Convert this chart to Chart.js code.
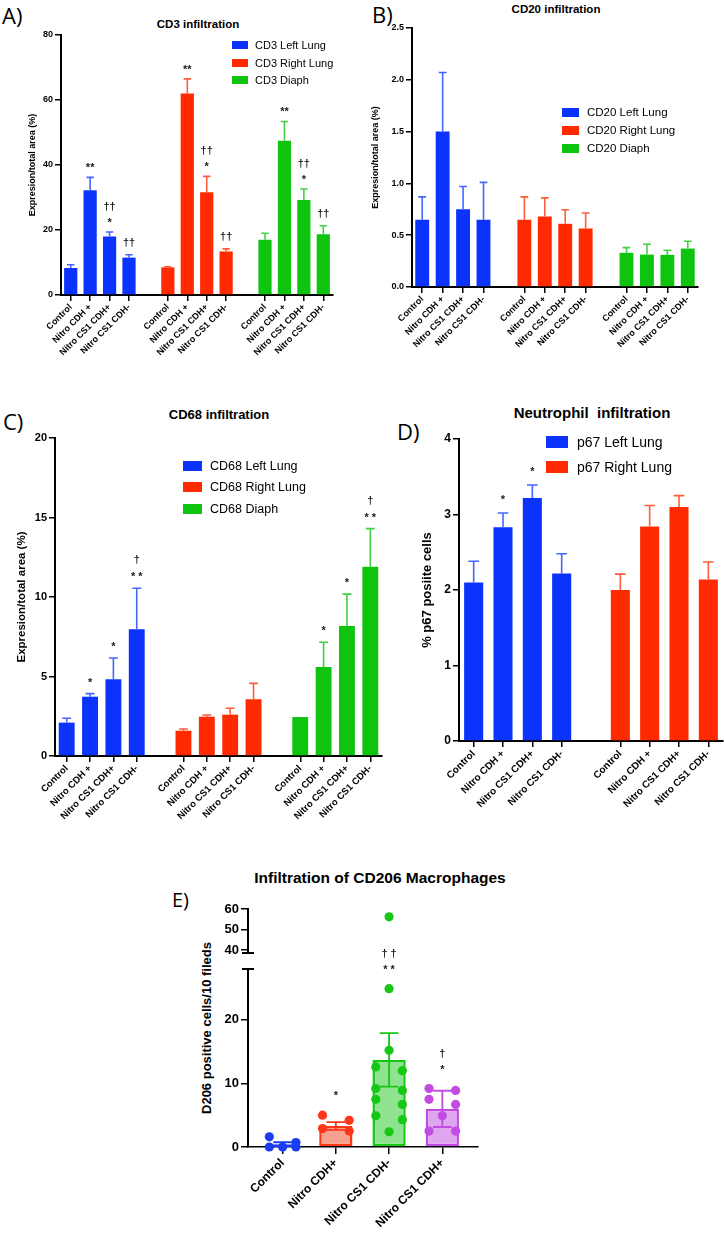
<!DOCTYPE html>
<html>
<head>
<meta charset="utf-8">
<title>Immune cell infiltration</title>
<script src="https://cdn.jsdelivr.net/npm/chart.js@4.4.3/dist/chart.umd.min.js"></script>
<style>
    body { margin: 0; background: #fff; }
    #page { position: relative; width: 724px; height: 1238px; overflow: hidden; font-family: Arial, "Liberation Sans", sans-serif; color: #000; }
    canvas { position: absolute; }
    .txt { position: absolute; white-space: nowrap; line-height: 1; }
    .title { font-weight: bold; transform: translate(-50%, -50%); }
    .letter { font-family: "Open Sans", "Liberation Sans", sans-serif; font-size: 22px; }
    .ytitle { font-weight: bold; transform: translate(-50%, -50%) rotate(-90deg); }
    .legend { position: absolute; }
    .legend .row { position: absolute; display: flex; align-items: center; white-space: nowrap; }
    .legend .sw { display: inline-block; }
</style>
</head>
<body>
<div id="page">
    <div class="txt letter" style="left:2px; top:4px;">A)</div>
    <div class="txt letter" style="left:372px; top:3px;">B)</div>
    <div class="txt letter" style="left:3px; top:410px;">C)</div>
    <div class="txt letter" style="left:397px; top:420px;">D)</div>
    <div class="txt letter" style="left:172px; top:890px; font-size:20px;">E)</div>

    <div class="txt title" style="left:198px; top:25px; font-size:11.5px;">CD3 infiltration</div>
    <div class="txt title" style="left:556px; top:10px; font-size:11.5px;">CD20 infiltration</div>
    <div class="txt title" style="left:219px; top:414px; font-size:13px;">CD68 infiltration</div>
    <div class="txt title" style="left:592px; top:412px; font-size:15px;">Neutrophil&nbsp; infiltration</div>
    <div class="txt title" style="left:380px; top:878px; font-size:15.5px;">Infiltration of CD206 Macrophages</div>
    <div class="txt ytitle" style="left:206px; top:1028px; font-size:13px;">D206 positive cells/10 fileds</div>

    <canvas id="cd3Chart" width="360" height="372" style="left:0px; top:0px;"></canvas>
    <canvas id="cd20Chart" width="364" height="350" style="left:360px; top:0px;"></canvas>
    <canvas id="cd68Chart" width="392" height="440" style="left:0px; top:400px;"></canvas>
    <canvas id="p67Chart" width="344" height="470" style="left:380px; top:370px;"></canvas>
    <canvas id="cd206Upper" width="340" height="70" style="left:150px; top:895px;"></canvas>
    <canvas id="cd206Lower" width="340" height="298" style="left:150px; top:940px;"></canvas>
</div>

<script>
// -----------------------------
// Data
// -----------------------------

const groups = ["Control", "Nitro CDH +", "Nitro CS1 CDH+", "Nitro CS1 CDH-"];

// A) CD3 infiltration
const cd3Left = [8.3, 32.2, 18.0, 11.5];
const cd3LeftErr = [1.0, 4.0, 1.4, 0.9];
const cd3Right = [8.5, 62.0, 31.6, 13.4];
const cd3RightErr = [0.2, 4.5, 4.9, 0.8];
const cd3Diaph = [17.0, 47.5, 29.2, 18.7];
const cd3DiaphErr = [2.0, 5.9, 3.4, 2.6];
const cd3Marks = ["", "**", "††\n*", "††"];

// B) CD20 infiltration
const cd20Left = [0.65, 1.50, 0.75, 0.65];
const cd20LeftErr = [0.22, 0.57, 0.22, 0.36];
const cd20Right = [0.65, 0.68, 0.61, 0.565];
const cd20RightErr = [0.22, 0.18, 0.135, 0.15];
const cd20Diaph = [0.33, 0.313, 0.31, 0.371];
const cd20DiaphErr = [0.05, 0.10, 0.045, 0.07];

// C) CD68 infiltration
const cd68Left = [2.1, 3.73, 4.82, 7.97];
const cd68LeftErr = [0.27, 0.19, 1.34, 2.58];
const cd68Right = [1.59, 2.47, 2.6, 3.57];
const cd68RightErr = [0.11, 0.11, 0.4, 1.0];
const cd68Diaph = [2.45, 5.6, 8.18, 11.9];
const cd68DiaphErr = [0, 1.55, 2.0, 2.4];
const cd68Marks = ["", "*", "*", "†\n* *"];

// D) Neutrophil infiltration
const p67Left = [2.10, 2.83, 3.22, 2.22];
const p67LeftErr = [0.28, 0.19, 0.17, 0.26];
const p67Right = [2.0, 2.84, 3.10, 2.14];
const p67RightErr = [0.21, 0.28, 0.15, 0.23];
const p67LeftMarks = ["", "*", "*", ""];

// E) CD206 macrophages
const cd206Groups = ["Control", "Nitro CDH+", "Nitro CS1 CDH-", "Nitro CS1 CDH+"];
const cd206Means = [0.45, 3.3, 13.7, 6.0];
const cd206Sem = [0.3, 0.6, 4.2, 2.85];
const cd206Control = [0, 0.7, 0, 1.6, 0];
const cd206NitroCdh = [5.0, 4.2, 2.9, 2.5];
const cd206Cs1Neg = [56.2, 24.9, 15.2, 12.6, 12.0, 9.2, 8.9, 7.5, 6.7, 4.9, 4.3, 2.4];
const cd206Cs1Pos = [9.2, 8.9, 7.5, 6.7, 4.9, 2.5, 2.5];
const cd206Marks = ["", "*", "† †\n* *", "†\n*"];

// -----------------------------
// Colours
// -----------------------------

const BLUE = "#0b33fb";
const RED = "#ff2a00";
const GREEN = "#0fc40f";
const BLUE_ERR = "#4566ff";
const RED_ERR = "#ff5c3c";
const GREEN_ERR = "#44cf44";

Chart.defaults.font.family = 'Arial, "Liberation Sans", sans-serif';
Chart.defaults.color = "#000";

// Error bars drawn right after each bar dataset
const errorBarsPlugin = {
    id: "errorBars",
    afterDatasetDraw(chart, args) {
        const ds = chart.data.datasets[args.index];
        const meta = args.meta;
        if (!ds.errors || meta.type !== "bar") return;
        const ctx = chart.ctx;
        const yScale = chart.scales[meta.yAxisID];

        meta.data.forEach((bar, i) => {
            const raw = ds.data[i];
            const v = raw !== null && typeof raw === "object" ? raw.y : raw;
            const e = ds.errors[i];
            if (v == null || !e) return;

            const cap = bar.width * 0.28;
            const yTop = yScale.getPixelForValue(v + e);
            const yBot = ds.errorBoth ? yScale.getPixelForValue(v - e) : bar.y;

            ctx.save();
            ctx.strokeStyle = Array.isArray(ds.errorColor) ? ds.errorColor[i] : ds.errorColor;
            ctx.lineWidth = ds.errorWidth || 1.6;
            ctx.beginPath();
            ctx.moveTo(bar.x, yBot);
            ctx.lineTo(bar.x, yTop);
            ctx.moveTo(bar.x - cap, yTop);
            ctx.lineTo(bar.x + cap, yTop);
            if (ds.errorBoth) {
                ctx.moveTo(bar.x - cap, yBot);
                ctx.lineTo(bar.x + cap, yBot);
            }
            ctx.stroke();
            ctx.restore();
        });
    }
};

// Significance marks (* and †) above the bars
const marksPlugin = {
    id: "marks",
    afterDatasetsDraw(chart, args, opts) {
        if (!opts || !opts.gap) return;
        const ctx = chart.ctx;

        chart.data.datasets.forEach((ds, di) => {
            if (!ds.marks) return;
            const meta = chart.getDatasetMeta(di);
            const yScale = chart.scales[meta.yAxisID];

            meta.data.forEach((bar, i) => {
                const text = ds.marks[i];
                if (!text) return;
                const y = yScale.getPixelForValue(ds.markBase[i]) - opts.gap;
                const lines = text.split("\n").reverse();

                ctx.save();
                ctx.fillStyle = "#1a1a1a";
                ctx.font = opts.font;
                ctx.textAlign = "center";
                ctx.textBaseline = "middle";
                lines.forEach((line, k) => {
                    // asterisks sit high in the font, push them down a bit
                    const shift = line.includes("*") ? opts.starShift : 0;
                    ctx.fillText(line, bar.x, y - k * opts.step + shift);
                });
                ctx.restore();
            });
        });
    }
};

// Short horizontal caps where the y axis is broken (panel E)
const axisCapPlugin = {
    id: "axisCap",
    afterDraw(chart, args, opts) {
        if (!opts || !opts.edge) return;
        const { ctx, chartArea } = chart;
        const y = opts.edge === "top" ? chartArea.top : chartArea.bottom;
        ctx.save();
        ctx.strokeStyle = "#000";
        ctx.lineWidth = 2;
        ctx.beginPath();
        ctx.moveTo(chartArea.left - 6, y);
        ctx.lineTo(chartArea.left + 6, y);
        ctx.stroke();
        ctx.restore();
    }
};

Chart.register(errorBarsPlugin, marksPlugin, axisCapPlugin);

// -----------------------------
// Grouped bar panels (A-D)
// -----------------------------

// Put one group's 4 values into its slot; blank separator slots between groups
function padGroup(arr, g, nGroups) {
    const out = [];
    for (let k = 0; k < nGroups; k++) {
        if (k > 0) out.push(null);
        groups.forEach((_, i) => out.push(k === g && arr ? arr[i] : null));
    }
    return out;
}

function groupedLabels(nGroups) {
    const out = [];
    for (let k = 0; k < nGroups; k++) {
        if (k > 0) out.push("");
        out.push(...groups);
    }
    return out;
}

function legendHtml({ x, y, step, swW, swH, size, items }) {
    const div = document.createElement("div");
    div.className = "legend";
    items.forEach((it, i) => {
        const row = document.createElement("div");
        row.className = "row";
        row.style.left = x + "px";
        row.style.top = (y + i * step) + "px";
        row.style.transform = "translateY(-50%)";
        row.style.fontSize = size + "px";
        row.innerHTML = `<span class="sw" style="width:${swW}px;height:${swH}px;background:${it.color};margin-right:${it.gap}px"></span>${it.label}`;
        div.appendChild(row);
    });
    document.getElementById("page").appendChild(div);
}

function groupedBarChart(canvasId, cfg) {
    const n = cfg.series.length;
    const labels = groupedLabels(n);

    const datasets = cfg.series.map((s, g) => {
        const vals = s.values;
        const errs = s.errors;
        return {
            label: s.label,
            data: padGroup(vals, g, n),
            errors: padGroup(errs, g, n),
            marks: padGroup(s.marks, g, n),
            markBase: padGroup(vals.map((v, i) => v + errs[i]), g, n),
            backgroundColor: s.color,
            borderWidth: 0,
            errorColor: s.errColor,
            grouped: false,
            barPercentage: cfg.barPct,
            categoryPercentage: 1
        };
    });

    legendHtml({
        ...cfg.legend,
        items: cfg.series.map(s => ({ label: s.label, color: s.color, gap: cfg.legend.gap }))
    });

    return new Chart(document.getElementById(canvasId), {
        type: "bar",
        data: { labels, datasets },
        options: {
            responsive: false,
            animation: false,
            devicePixelRatio: 1,
            layout: { padding: { top: cfg.padTop, right: cfg.padRight, left: 0, bottom: 0 } },
            plugins: {
                legend: { display: false },
                tooltip: { enabled: false },
                marks: cfg.marks || {}
            },
            scales: {
                x: {
                    afterFit(scale) { scale.height = cfg.xHeight; },
                    border: { color: "#000", width: 2 },
                    grid: {
                        offset: false,
                        drawOnChartArea: false,
                        tickLength: 6,
                        lineWidth: 1.5,
                        color: ctx => labels[ctx.index] ? "#000" : "rgba(0,0,0,0)"
                    },
                    ticks: {
                        autoSkip: false,
                        minRotation: 45,
                        maxRotation: 45,
                        padding: 1,
                        font: { size: cfg.xFont, weight: "bold" }
                    }
                },
                y: {
                    min: cfg.yMin,
                    max: cfg.yMax,
                    afterFit(scale) { scale.width = cfg.yWidth; },
                    border: { color: "#000", width: 2 },
                    grid: { drawOnChartArea: false, tickLength: 6, lineWidth: 1.5, color: "#000" },
                    ticks: {
                        stepSize: cfg.yStep,
                        padding: 2,
                        font: { size: cfg.yFont, weight: "bold" },
                        callback: cfg.yFormat || (v => v)
                    },
                    title: {
                        display: true,
                        text: cfg.yTitle,
                        font: { size: cfg.yTitleFont, weight: "bold" },
                        padding: { top: cfg.yTitlePad, bottom: 0 }
                    }
                }
            }
        }
    });
}

// A) CD3
groupedBarChart("cd3Chart", {
    series: [
        { label: "CD3 Left Lung", color: BLUE, errColor: BLUE_ERR, values: cd3Left, errors: cd3LeftErr, marks: cd3Marks },
        { label: "CD3 Right Lung", color: RED, errColor: RED_ERR, values: cd3Right, errors: cd3RightErr, marks: cd3Marks },
        { label: "CD3 Diaph", color: GREEN, errColor: GREEN_ERR, values: cd3Diaph, errors: cd3DiaphErr, marks: cd3Marks }
    ],
    yMin: 0, yMax: 80, yStep: 20,
    yTitle: "Expresion/total area (%)",
    yWidth: 61, xHeight: 77, padTop: 35, padRight: 27,
    barPct: 0.68, xFont: 9, yFont: 9, yTitleFont: 9, yTitlePad: 27,
    marks: { gap: 12, step: 13, starShift: 3, font: "bold 11px Arial, 'Liberation Sans', sans-serif" },
    legend: { x: 232, y: 45, step: 17.5, swW: 16, swH: 8, size: 11, gap: 7 }
});

// B) CD20
groupedBarChart("cd20Chart", {
    series: [
        { label: "CD20 Left Lung", color: BLUE, errColor: BLUE_ERR, values: cd20Left, errors: cd20LeftErr },
        { label: "CD20 Right Lung", color: RED, errColor: RED_ERR, values: cd20Right, errors: cd20RightErr },
        { label: "CD20 Diaph", color: GREEN, errColor: GREEN_ERR, values: cd20Diaph, errors: cd20DiaphErr }
    ],
    yMin: 0, yMax: 2.5, yStep: 0.5,
    yFormat: v => v.toFixed(1),
    yTitle: "Expresion/total area (%)",
    yWidth: 52, xHeight: 63, padTop: 28, padRight: 26,
    barPct: 0.68, xFont: 9, yFont: 9, yTitleFont: 9, yTitlePad: 10,
    legend: { x: 562, y: 112, step: 18, swW: 17, swH: 9, size: 11.5, gap: 8 }
});

// C) CD68
groupedBarChart("cd68Chart", {
    series: [
        { label: "CD68 Left Lung", color: BLUE, errColor: BLUE_ERR, values: cd68Left, errors: cd68LeftErr, marks: cd68Marks },
        { label: "CD68 Right Lung", color: RED, errColor: RED_ERR, values: cd68Right, errors: cd68RightErr, marks: ["", "", "", ""] },
        { label: "CD68 Diaph", color: GREEN, errColor: GREEN_ERR, values: cd68Diaph, errors: cd68DiaphErr, marks: cd68Marks }
    ],
    yMin: 0, yMax: 20, yStep: 5,
    yTitle: "Expresion/total area (%)",
    yWidth: 55, xHeight: 84, padTop: 38, padRight: 10,
    barPct: 0.68, xFont: 9.5, yFont: 11, yTitleFont: 11.5, yTitlePad: 15,
    marks: { gap: 14, step: 14, starShift: 3, font: "bold 11px Arial, 'Liberation Sans', sans-serif" },
    legend: { x: 183, y: 466, step: 21.3, swW: 19, swH: 10, size: 12.5, gap: 8 }
});

// D) Neutrophils
groupedBarChart("p67Chart", {
    series: [
        { label: "p67 Left Lung", color: BLUE, errColor: BLUE_ERR, values: p67Left, errors: p67LeftErr, marks: p67LeftMarks },
        { label: "p67 Right Lung", color: RED, errColor: RED_ERR, values: p67Right, errors: p67RightErr, marks: ["", "", "", ""] }
    ],
    yMin: 0, yMax: 4, yStep: 1,
    yTitle: "% p67 posiite cells",
    yWidth: 79, xHeight: 99, padTop: 69, padRight: 1,
    barPct: 0.65, xFont: 10, yFont: 12, yTitleFont: 13, yTitlePad: 40,
    marks: { gap: 16, step: 13, starShift: 3, font: "bold 11px Arial, 'Liberation Sans', sans-serif" },
    legend: { x: 546, y: 442, step: 25, swW: 22, swH: 12, size: 14, gap: 9 }
});

// -----------------------------
// E) CD206 scatter + bar, broken y axis
// -----------------------------

const cd206Sets = [cd206Control, cd206NitroCdh, cd206Cs1Neg, cd206Cs1Pos];
const cd206Colors = ["#1a3df2", "#ff3518", "#16c716", "#c24ce2"];
const cd206Fills = ["#8fa0ff", "#f7a190", "#8fe38f", "#dfa6f0"];
const lowerMax = 28;
const upperMin = 38.5;
const xMin = -0.65;
const xMax = 3.67;

// Nearby values share a row and are spread sideways, like GraphPad scatter
function spreadPoints(values, center) {
    const sorted = [...values].sort((a, b) => b - a);
    const rows = [];
    sorted.forEach(v => {
        const row = rows[rows.length - 1];
        if (row && row.length < 3 && row[0] - v < 1.5) row.push(v);
        else rows.push([v]);
    });
    const pts = [];
    rows.forEach(row => {
        const n = row.length;
        const step = n === 2 ? 0.5 : 0.25;
        row.forEach((v, k) => pts.push({ x: center + (k - (n - 1) / 2) * step, y: v }));
    });
    return pts;
}

const lowerPoints = cd206Sets.map((vals, i) => spreadPoints(vals.filter(v => v <= lowerMax), i));
const upperPoints = cd206Sets.map((vals, i) => spreadPoints(vals.filter(v => v > lowerMax), i));
const markBase = cd206Sets.map((vals, i) =>
    Math.max(cd206Means[i] + cd206Sem[i], ...vals.filter(v => v <= lowerMax)));

const e206X = {
    type: "linear",
    min: xMin,
    max: xMax,
    offset: false
};

new Chart(document.getElementById("cd206Lower"), {
    type: "bar",
    data: {
        datasets: [
            {
                type: "bar",
                data: cd206Means.map((m, i) => ({ x: i, y: m })),
                errors: cd206Sem,
                errorBoth: true,
                errorColor: cd206Colors,
                errorWidth: 1.8,
                marks: cd206Marks,
                markBase,
                backgroundColor: cd206Fills,
                borderColor: cd206Colors,
                borderWidth: 2.5,
                borderSkipped: false,
                barPercentage: 0.625,
                categoryPercentage: 1,
                order: 2
            },
            ...lowerPoints.map((pts, i) => ({
                type: "scatter",
                data: pts,
                clip: false,
                pointRadius: 4.6,
                pointBackgroundColor: cd206Colors[i],
                pointBorderWidth: 0,
                order: 1
            }))
        ]
    },
    options: {
        responsive: false,
        animation: false,
        devicePixelRatio: 1,
        layout: { padding: { top: 29, right: 12, left: 0, bottom: 0 } },
        plugins: {
            legend: { display: false },
            tooltip: { enabled: false },
            marks: { gap: 22, step: 13, starShift: 3, font: "bold 11px Arial, 'Liberation Sans', sans-serif" },
            axisCap: { edge: "top" }
        },
        scales: {
            x: {
                ...e206X,
                afterFit(scale) { scale.height = 91; },
                afterBuildTicks(scale) { scale.ticks = cd206Groups.map((_, i) => ({ value: i })); },
                border: { color: "#000", width: 1.5, dash: [2, 2] },
                grid: { offset: false, drawOnChartArea: false, tickLength: 7, lineWidth: 1.5, color: "#000" },
                ticks: {
                    autoSkip: false,
                    minRotation: 45,
                    maxRotation: 45,
                    padding: 2,
                    font: { size: 12, weight: "bold" },
                    callback: v => cd206Groups[v]
                }
            },
            y: {
                min: 0,
                max: lowerMax,
                afterFit(scale) { scale.width = 98; },
                afterBuildTicks(scale) { scale.ticks = scale.ticks.filter(t => t.value % 10 === 0); },
                border: { color: "#000", width: 2 },
                grid: { drawOnChartArea: false, tickLength: 7, lineWidth: 1.5, color: "#000" },
                ticks: { stepSize: 10, padding: 2, font: { size: 13, weight: "bold" } }
            }
        }
    }
});

new Chart(document.getElementById("cd206Upper"), {
    type: "scatter",
    data: {
        datasets: upperPoints.map((pts, i) => ({
            data: pts,
            clip: false,
            pointRadius: 4.6,
            pointBackgroundColor: cd206Colors[i],
            pointBorderWidth: 0
        }))
    },
    options: {
        responsive: false,
        animation: false,
        devicePixelRatio: 1,
        layout: { padding: { top: 14, right: 12, left: 0, bottom: 12 } },
        plugins: {
            legend: { display: false },
            tooltip: { enabled: false },
            axisCap: { edge: "bottom" }
        },
        scales: {
            x: { ...e206X, display: false },
            y: {
                min: upperMin,
                max: 60,
                afterFit(scale) { scale.width = 98; },
                afterBuildTicks(scale) { scale.ticks = [40, 50, 60].map(v => ({ value: v })); },
                border: { color: "#000", width: 2 },
                grid: { drawOnChartArea: false, tickLength: 7, lineWidth: 1.5, color: "#000" },
                ticks: { padding: 2, font: { size: 13, weight: "bold" } }
            }
        }
    }
});
</script>
</body>
</html>
